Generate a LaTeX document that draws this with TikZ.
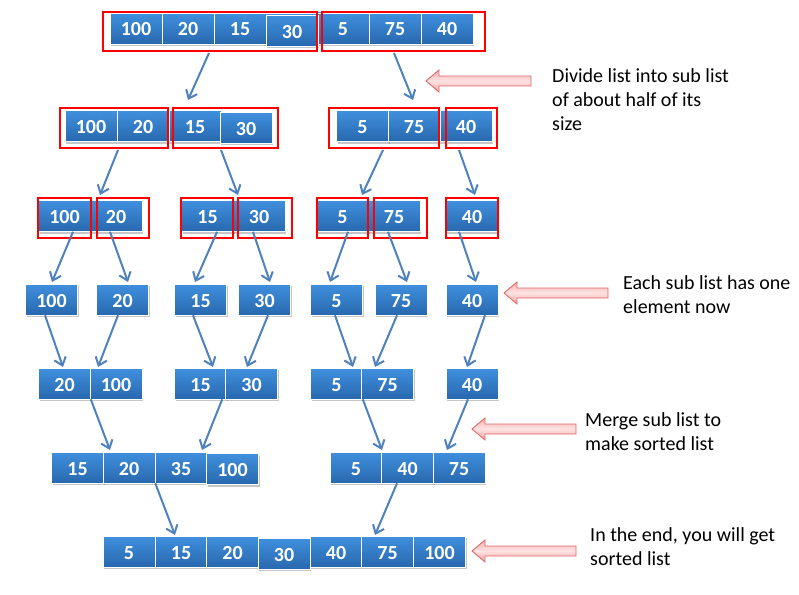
\documentclass[tikz,border=0pt]{standalone}
\usepackage{fontspec}
\setmainfont{Carlito}
\usetikzlibrary{arrows.meta,calc,shadows}
\definecolor{cellTop}{RGB}{64,144,222}
\definecolor{cellBot}{RGB}{40,104,174}
\definecolor{arrBlue}{RGB}{79,129,189}
\definecolor{pinkEdge}{RGB}{222,104,104}
\definecolor{pinkTop}{RGB}{246,178,178}
\definecolor{pinkMid}{RGB}{255,226,226}
\definecolor{pinkBot}{RGB}{242,160,160}
\newcommand\cellat[4]{\node[cell] (#1) at (#2,#3) {#4};}
\newcommand\redat[5]{\node[redbox, minimum width=#4pt, minimum height=#5pt] (#1) at (#2,#3) {};}
\newcommand\pinkarrowat[4]{\path[pinkarr] (#2,#4) -- ++(13,-11) -- ++(0,6) -- (#3,#4-5) -- (#3,#4+5) -- (#2+13,#4+5) -- (#2+13,#4+11) -- cycle;}
\begin{document}
\begin{tikzpicture}[x=1pt,y=-1pt,
  cell/.style={minimum width=52pt, minimum height=31pt, inner sep=0pt, draw=white, line width=0.6pt,
    text height=15pt, text depth=0pt,
    top color=cellTop, bottom color=cellBot, text=white, font=\fontsize{20}{24}\selectfont\bfseries,
    drop shadow={shadow xshift=1pt, shadow yshift=-2pt, fill=black, opacity=0.22}},
  redbox/.style={draw=red, line width=2pt, inner sep=0pt},
  arr/.style={draw=arrBlue, line width=2pt, -{Straight Barb[length=7.5pt,width=12pt]}},
  pinkarr/.style={draw=pinkEdge, line width=0.9pt, top color=pinkTop, bottom color=pinkBot, middle color=pinkMid},
  note/.style={anchor=north west, inner sep=0pt, align=left, font=\fontsize{20}{24}\selectfont, text=black}]
\useasboundingbox (0,0) rectangle (799,594);
% row 1
\cellat{a1}{136}{28.5}{100}
\cellat{a2}{188}{28.5}{20}
\cellat{a3}{240}{28.5}{15}
\cellat{a5}{343}{28.5}{5}
\cellat{a6}{395}{28.5}{75}
\cellat{a7}{447}{28.5}{40}
\cellat{a4}{292}{30.5}{30}
% row 2
\cellat{b1}{91}{126}{100}
\cellat{b2}{143}{126}{20}
\cellat{b3}{195}{126}{15}
\cellat{b4}{246}{127.5}{30}
\cellat{b5}{362.5}{126}{5}
\cellat{b6}{414}{126}{75}
\cellat{b7}{466}{126}{40}
% row 3
\cellat{c1}{64.5}{216}{100}
\cellat{c2}{116}{216}{20}
\cellat{c3}{207.5}{216}{15}
\cellat{c4}{259}{216}{30}
\cellat{c5}{342.5}{216}{5}
\cellat{c6}{394}{216}{75}
\cellat{c7}{472}{216}{40}
% row 4
\cellat{d1}{51.5}{299.5}{100}
\cellat{d2}{122.5}{299.5}{20}
\cellat{d3}{200.5}{299.5}{15}
\cellat{d4}{264.5}{299.5}{30}
\cellat{d5}{336.5}{299.5}{5}
\cellat{d6}{401}{299.5}{75}
\cellat{d7}{472}{299.5}{40}
% row 5
\cellat{e1}{64.5}{383.5}{20}
\cellat{e2}{116}{383.5}{100}
\cellat{e3}{200.5}{383.5}{15}
\cellat{e4}{251.5}{383.5}{30}
\cellat{e5}{336.5}{383.5}{5}
\cellat{e6}{387.5}{383.5}{75}
\cellat{e7}{472}{383.5}{40}
% row 6
\cellat{f1}{77.5}{467.5}{15}
\cellat{f2}{129}{467.5}{20}
\cellat{f3}{181}{467.5}{35}
\cellat{f4}{232.5}{469}{100}
\cellat{f5}{356}{467.5}{5}
\cellat{f6}{407.5}{467.5}{40}
\cellat{f7}{459}{467.5}{75}
% row 7
\cellat{g1}{129}{551.5}{5}
\cellat{g2}{181}{551.5}{15}
\cellat{g3}{232.5}{551.5}{20}
\cellat{g5}{336}{551.5}{40}
\cellat{g6}{387.5}{551.5}{75}
\cellat{g7}{439.5}{551.5}{100}
\cellat{g4}{284}{553.5}{30}
% red frames
\redat{ra1}{210}{31.5}{214}{39}
\redat{ra2}{403.5}{31.5}{163}{39}
\redat{rb1}{114}{128}{108}{40}
\redat{rb2}{225.5}{128}{105}{40}
\redat{rb3}{384}{128}{110}{40}
\redat{rb4}{471.5}{128}{51}{40}
\redat{rc1}{64.5}{218}{53}{40}
\redat{rc2}{123}{218}{52}{40}
\redat{rc3}{207}{218}{52}{40}
\redat{rc4}{265}{218}{54}{40}
\redat{rc5}{342.5}{218}{51}{40}
\redat{rc6}{400.5}{218}{53}{40}
\redat{rc7}{472}{218}{52}{40}
% arrows: divide
\draw[arr] ($(ra1.south)+(-1,1)$) -- ($(b3.center)+(-7,-26)$);
\draw[arr] ($(ra2.south)+(-9.5,1)$) -- ($(b6.center)+(-1,-26)$);
\draw[arr] ($(rb1.south)+(4,1)$) -- ($(c2.center)+(-16,-21)$);
\draw[arr] ($(rb2.south)+(-4.5,1)$) -- ($(c4.center)+(-21,-21)$);
\draw[arr] ($(rb3.south)+(-1,1)$) -- ($(c5.center)+(19.5,-21)$);
\draw[arr] ($(rb4.south)+(-12.5,1)$) -- ($(c7.center)+(3,-21)$);
\draw[arr] ($(c1.south)+(8.5,0)$) -- ($(d1.center)+(0.5,-17.5)$);
\draw[arr] ($(c2.south)+(-6,0)$) -- ($(d2.center)+(5.5,-17.5)$);
\draw[arr] ($(c3.south)+(9.5,0)$) -- ($(d3.center)+(-5.5,-17.5)$);
\draw[arr] ($(c4.south)+(-6,0)$) -- ($(d4.center)+(5.5,-17.5)$);
\draw[arr] ($(c5.south)+(5.5,0)$) -- ($(d5.center)+(-6.5,-17.5)$);
\draw[arr] ($(c6.south)+(-6,0)$) -- ($(d6.center)+(6,-17.5)$);
\draw[arr] ($(c7.south)+(-13,0)$) -- ($(d7.center)+(4,-17.5)$);
% arrows: merge
\draw[arr] ($(d1.south)+(-6.5,0)$) -- ($(e1.center)+(-1.5,-16.5)$);
\draw[arr] ($(d2.south)+(-4.5,0)$) -- ($(e2.center)+(-18,-16.5)$);
\draw[arr] ($(d3.south)+(-7.5,0)$) -- ($(e3.center)+(12.5,-16.5)$);
\draw[arr] ($(d4.south)+(3.5,0)$) -- ($(e4.center)+(-4.5,-16.5)$);
\draw[arr] ($(d5.south)+(-1.5,0)$) -- ($(e5.center)+(16.5,-16.5)$);
\draw[arr] ($(d6.south)+(-4,0)$) -- ($(e6.center)+(-12.5,-16.5)$);
\draw[arr] ($(d7.south)+(13,0)$) -- ($(e7.center)+(-5,-16.5)$);
\draw[arr] (e1.south east) -- ($(f2.center)+(-19,-17.5)$);
\draw[arr] ($(e4.south west)+(-3,0)$) -- ($(f3.center)+(21,-17.5)$);
\draw[arr] (e5.south east) -- ($(f6.center)+(-25.5,-17.5)$);
\draw[arr] ($(e7.south)+(-4,0)$) -- ($(f7.center)+(-12,-17.5)$);
\draw[arr] (f2.south east) -- ($(g2.center)+(-6,-16.5)$);
\draw[arr] ($(f6.south)+(-10.5,0)$) -- ($(g6.center)+(-12.5,-16.5)$);
% annotations
\pinkarrowat{p1}{426}{531}{81}
\pinkarrowat{p2}{504}{608}{293}
\pinkarrowat{p3}{472}{576}{429}
\pinkarrowat{p4}{472}{576}{551}
\node[note] (t1) at (552,68) {Divide list into sub list\\of about half of its\\size};
\node[note] (t2) at (623,275) {Each sub list has one\\element now};
\node[note] (t3) at (585,412) {Merge sub list to\\make sorted list};
\node[note] (t4) at (590,527) {In the end, you will get\\sorted list};
\end{tikzpicture}
\end{document}
